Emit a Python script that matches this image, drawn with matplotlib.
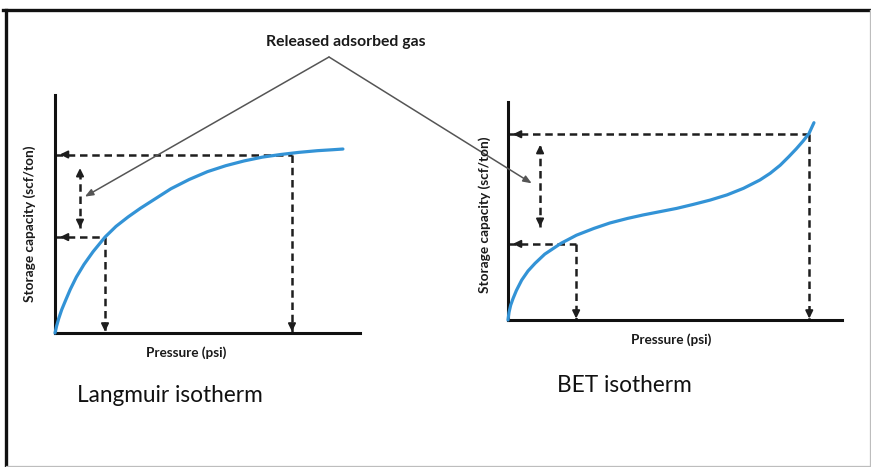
import matplotlib
matplotlib.use("Agg")
import matplotlib.pyplot as plt
from matplotlib.lines import Line2D

plt.rcParams['font.family'] = ['Lato', 'DejaVu Sans']

# ---- data (arbitrary units: pressure and storage capacity, 0-100 along each axis) ----
langmuir_p = [0, 0.5, 1.2, 2.2, 3.5, 5.0, 7.0, 9.5, 12.5, 16.4, 20, 24, 28, 33, 38, 44,
              50, 56, 62, 68, 74, 80, 86, 91, 94.4]
langmuir_c = [0, 2.8, 6.0, 9.8, 13.8, 18.3, 23.5, 28.8, 34.2, 40.3, 44.8, 48.8, 52.4, 56.5,
              60.6, 64.5, 67.8, 70.3, 72.3, 73.9, 75.0, 75.9, 76.6, 77.0, 77.3]
langmuir_release_p = [16.4, 77.7]      # low / high pressure
langmuir_release_c = [40.3, 75.0]      # capacity at those pressures
langmuir_gas_arrow = [8.2, 44.1, 69.3]  # x, bottom, top

bet_p = [0, 0.3, 0.8, 1.5, 2.5, 4.1, 6.0, 8.1, 11, 15.9, 20.5, 25.7, 30.5, 35.8, 40.5, 45.5,
         50.5, 55.4, 60.5, 65.6, 70.5, 75.4, 78.5, 81.5, 84, 86.3, 88.3, 90.1, 91.6]
bet_c = [0, 3.5, 6.8, 9.8, 13.5, 18.3, 22.5, 26.0, 30.2, 35.2, 38.9, 42.0, 44.5, 46.6, 48.2,
         49.7, 51.2, 53.0, 55.0, 57.4, 60.4, 64.2, 67.3, 71.0, 74.8, 78.5, 82.0, 85.5, 90.5]
bet_release_p = [20.4, 90.2]
bet_release_c = [34.9, 85.2]
bet_gas_arrow = [9.6, 42.7, 80.3]

panel_titles = ["Langmuir isotherm", "BET isotherm"]
x_label = "Pressure (psi)"
y_label = "Storage capacity (scf/ton)"
note_text = "Released adsorbed gas"
note_targets = [(9.8, 57.3), (7.1, 62.7)]

W, H = 871, 467
fig = plt.figure(figsize=(W / 100, H / 100), dpi=100)
fig.patch.set_facecolor('white')


def fx(px):
    return px / W


def fy(py):
    return 1 - py / H


# outer frame
fig.add_artist(Line2D([fx(3), fx(871)], [fy(9.5), fy(9.5)], color='#111111', lw=2.4))
fig.add_artist(Line2D([fx(5.5), fx(5.5)], [fy(9.5), fy(467)], color='#111111', lw=2.4))
fig.add_artist(Line2D([fx(869.5), fx(869.5)], [fy(10), fy(466)], color='#bdbdbd', lw=0.9))
fig.add_artist(Line2D([fx(6), fx(870)], [fy(465.5), fy(465.5)], color='#bdbdbd', lw=0.9))

CURVE = '#3393d6'
DASH = '#1e1e1e'
DLS = (0, (3.0, 1.9))


def make_axes(left, bottom_px, right, top_px):
    ax = fig.add_axes([fx(left), fy(bottom_px), fx(right) - fx(left), (bottom_px - top_px) / H])
    ax.set_xlim(0, 100)
    ax.set_ylim(0, 100)
    for s in ('top', 'right'):
        ax.spines[s].set_visible(False)
    for s in ('left', 'bottom'):
        ax.spines[s].set_linewidth(2.2)
        ax.spines[s].set_color('#111111')
    ax.set_xticks([])
    ax.set_yticks([])
    ax.patch.set_alpha(0)
    return ax


def head(ax, xy, offset, shrink=0.5):
    ax.annotate('', xy=xy, xytext=offset, textcoords='offset points',
                arrowprops=dict(arrowstyle='-|>,head_length=0.45,head_width=0.22',
                                color=DASH, lw=1.4, shrinkA=0, shrinkB=shrink),
                annotation_clip=False)


def draw_panel(ax, p, c, rel_p, rel_c, gas):
    ax.plot(p, c, color=CURVE, lw=2.3, solid_capstyle='round', solid_joinstyle='round',
            clip_on=False, zorder=3)
    for rp, rc in zip(rel_p, rel_c):
        ax.plot([0, rp], [rc, rc], color=DASH, lw=1.8, ls=DLS, clip_on=False, zorder=2)
        ax.plot([rp, rp], [rc, 0], color=DASH, lw=1.8, ls=DLS, clip_on=False, zorder=2)
        head(ax, (0, rc), (9, 0), shrink=3.5)
        head(ax, (rp, 0), (0, 7), shrink=1.0)
    gx, gb, gt = gas
    ax.plot([gx, gx], [gb, gt], color=DASH, lw=1.8, ls=DLS, clip_on=False, zorder=2)
    head(ax, (gx, gt), (0, -6), shrink=0)
    head(ax, (gx, gb), (0, 6), shrink=0)


ax1 = make_axes(55, 333, 360, 95)
ax2 = make_axes(508, 320, 842, 102)

draw_panel(ax1, langmuir_p, langmuir_c, langmuir_release_p, langmuir_release_c, langmuir_gas_arrow)
draw_panel(ax2, bet_p, bet_c, bet_release_p, bet_release_c, bet_gas_arrow)

# axis labels
label_kw = dict(fontsize=9.8, fontweight='bold', color='#1a1a1a', ha='center', va='center')
fig.text(fx(186), fy(353), x_label, **label_kw)
fig.text(fx(671), fy(340), x_label, **label_kw)
fig.text(fx(30), fy(224), y_label, rotation=90, **label_kw)
fig.text(fx(485), fy(215), y_label, rotation=90, **label_kw)

# panel titles
fig.text(fx(169.5), fy(395), panel_titles[0], fontsize=16.3, color='#111111', ha='center', va='center')
fig.text(fx(624), fy(385), panel_titles[1], fontsize=16.3, color='#111111', ha='center', va='center')

# callout text with leader lines
fig.text(fx(346), fy(42), note_text, fontsize=11.3, fontweight='bold', color='#1a1a1a',
         ha='center', va='center')
apex = (fx(329), fy(57))
for ax, tgt in zip((ax1, ax2), note_targets):
    ax.annotate('', xy=tgt, xycoords='data', xytext=apex, textcoords='figure fraction',
                arrowprops=dict(arrowstyle='-|>,head_length=0.5,head_width=0.2',
                                color='#555555', lw=1.1, shrinkA=0, shrinkB=0),
                annotation_clip=False, zorder=5)

fig.savefig('out.png', dpi=100)
